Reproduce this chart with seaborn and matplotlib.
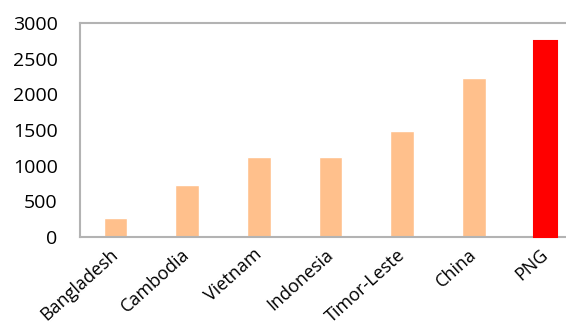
import seaborn as sns
import matplotlib.pyplot as plt
import pandas as pd

countries = ['Bangladesh', 'Cambodia', 'Vietnam', 'Indonesia', 'Timor-Leste', 'China', 'PNG']
values = [270, 730, 1120, 1120, 1490, 2230, 2750]
bar_colors = ['#FFC08C'] * 6 + ['#FF0000']

df = pd.DataFrame({'Country': countries, 'Value': values})

sns.set_style("white")
plt.rcParams['font.family'] = ['Open Sans', 'DejaVu Sans']

fig = plt.figure(figsize=(5.66, 3.29), dpi=100)
ax = fig.add_axes([0.141, 0.28, 0.886, 0.65])

sns.barplot(data=df, x='Country', y='Value', hue='Country', palette=bar_colors,
            width=0.33, legend=False, ax=ax, saturation=1)

# PNG bar drawn over the axis line, with a little overhang
png_bar = ax.patches[-1]
png_bar.set_edgecolor('#FF0000')
png_bar.set_linewidth(1.5)
png_bar.set_zorder(5)
png_bar.set_clip_on(False)

ax.set_xlim(-0.5, 6.5)
ax.set_ylim(0, 3000)
ax.set_yticks(range(0, 3001, 500))
ax.set_xlabel('')
ax.set_ylabel('')

# tick marks between categories, pointing inward
ax.set_xticks(range(len(countries)))
ax.set_xticklabels(countries, rotation=42, ha='right', va='center',
                   rotation_mode='anchor', fontsize=13, color='black')
ax.set_xticks([i + 0.5 for i in range(len(countries) - 1)], minor=True)
ax.tick_params(axis='x', which='major', length=0, pad=11)
ax.tick_params(axis='x', which='minor', direction='in', length=4, color='#b0b0b0', width=1)
ax.tick_params(axis='y', direction='out', length=4, color='#b0b0b0', width=1,
               labelsize=14, labelcolor='black', pad=12)

for side in ['left', 'bottom', 'top']:
    ax.spines[side].set_color('#b3b3b3')
    ax.spines[side].set_linewidth(1.5)
ax.spines['right'].set_visible(False)

plt.savefig('out.png', dpi=100)
plt.close()
